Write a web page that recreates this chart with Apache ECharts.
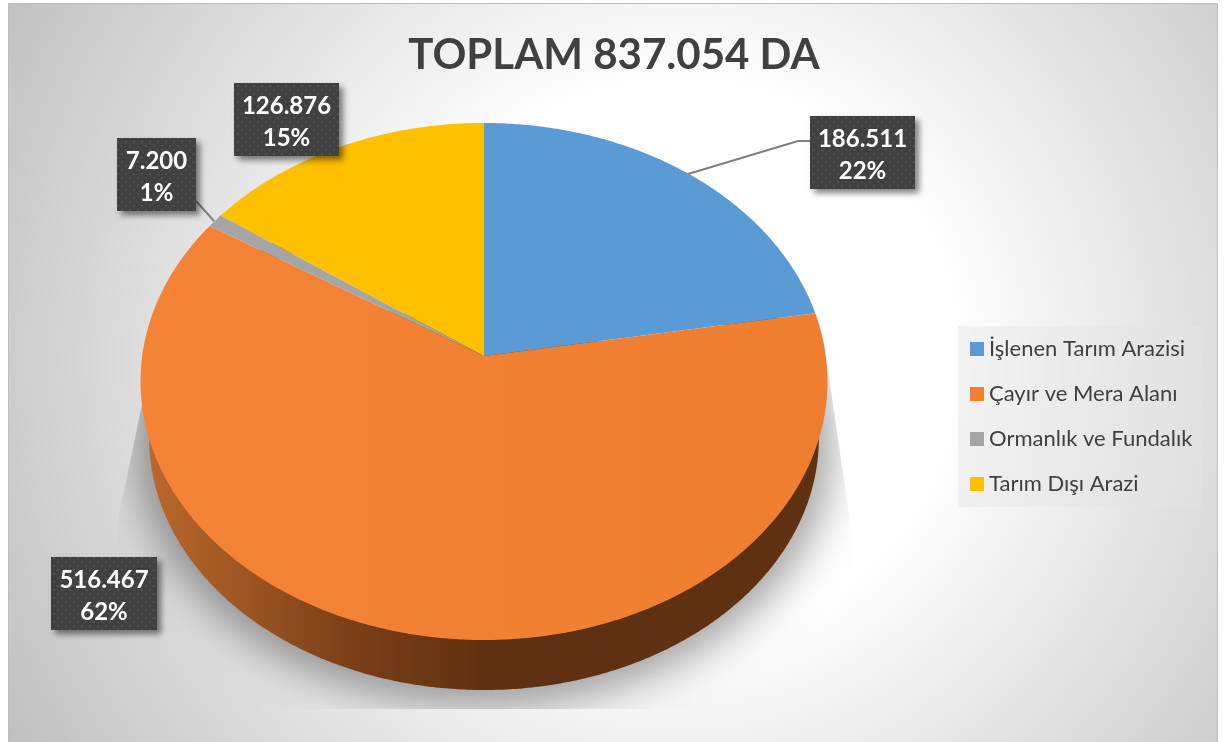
<!DOCTYPE html>
<html>
<head>
<meta charset="utf-8">
<style>
  html, body { margin: 0; padding: 0; background: #fff; }
  #main { width: 1227px; height: 742px; }
</style>
<script src="https://cdn.jsdelivr.net/npm/echarts@6/dist/echarts.min.js"></script>
</head>
<body>
<div id="main"></div>
<script>
const categories = ['İşlenen Tarım Arazisi', 'Çayır ve Mera Alanı', 'Ormanlık ve Fundalık', 'Tarım Dışı Arazi'];
const values = [186511, 516467, 7200, 126876];
const colors = ['#5b9bd5', '#f2802f', '#a5a5a5', '#ffc000'];
const wallColors = ['#2f5a80', '#5f3011', '#555555', '#7a5c00'];
const total = values.reduce((a, b) => a + b, 0);

// perspective tilt of the disc, the centre sits above the middle of the ellipse
const cx = 484, apexY = 356, k = 0.0986, radY = 256, radX = 341.8;
const midY = 381.5, wallScale = 0.975, wallY = 438;

function project(deg) {
  const t = deg * Math.PI / 180, u = Math.sin(t), v = Math.cos(t), d = 1 + k * v;
  return [cx + radX * u / d, apexY - radY * v / d];
}
function projectWall(deg, extra) {
  const p = project(deg), s = wallScale * (extra || 1);
  return [cx + (p[0] - cx) * s, wallY + (p[1] - midY) * s];
}
function arc(from, to, fn) {
  const pts = [];
  const n = Math.max(2, Math.ceil((to - from) / 0.5));
  for (let i = 0; i <= n; i++) pts.push(fn(from + (to - from) * i / n));
  return pts;
}

// label boxes and leader lines
const labelBoxes = [[810, 116, 105, 73], [51, 557, 106, 73], [117, 138, 79, 73], [234, 83, 105, 73]];
const leaders = [[[688, 174], [798, 141], [810, 141]], null, [[196, 201], [214, 221]], null];

const dots = document.createElement('canvas');
dots.width = dots.height = 8;
const dctx = dots.getContext('2d');
dctx.fillStyle = '#404040';
dctx.fillRect(0, 0, 8, 8);
dctx.fillStyle = '#4f4f4f';
dctx.fillRect(1, 1, 2, 2);
dctx.fillRect(5, 5, 2, 2);

const sideFill = {
  type: 'linear', x: 148, y: 0, x2: 490, y2: 0, global: true,
  colorStops: [
    { offset: 0, color: '#ba682c' },
    { offset: 0.6, color: '#7a3f17' },
    { offset: 1, color: '#5f3011' }
  ]
};
const orangeFill = {
  type: 'linear', x: 140, y: 0, x2: 827, y2: 0, global: true,
  colorStops: [{ offset: 0, color: '#f58335' }, { offset: 1, color: '#f07e30' }]
};

function fmt(v) {
  return String(v).replace(/\B(?=(\d{3})+$)/g, '.');
}

function sliceSeries(name, i) {
  const before = values.slice(0, i).reduce((a, b) => a + b, 0);
  return {
    type: 'custom',
    name: name,
    coordinateSystem: 'none',
    z: 3,
    silent: true,
    itemStyle: { color: colors[i] },
    data: [[values[i]]],
    renderItem: function (params, api) {
      const start = before / total * 360;
      const end = start + api.value(0) / total * 360;
      const top = [[cx, apexY]].concat(arc(start, end, project));
      const wall = arc(start, end, projectWall);
      const box = labelBoxes[i];
      const children = [
        { type: 'polygon', z2: 1, shape: { points: wall }, style: { fill: i === 1 ? sideFill : wallColors[i] } },
        { type: 'polygon', z2: 2, shape: { points: top }, style: { fill: i === 1 ? orangeFill : colors[i] } }
      ];
      if (leaders[i]) {
        children.push({ type: 'polyline', z2: 4, shape: { points: leaders[i] }, style: { fill: null, stroke: '#7f7f7f', lineWidth: 2 } });
      }
      children.push({
        type: 'rect', z2: 5,
        shape: { x: box[0], y: box[1], width: box[2], height: box[3] },
        style: { fill: { image: dots, repeat: 'repeat' }, shadowBlur: 6, shadowOffsetX: 4, shadowOffsetY: 4, shadowColor: 'rgba(0,0,0,0.5)' }
      });
      children.push({
        type: 'text', z2: 6,
        style: {
          x: box[0] + box[2] / 2, y: box[1] + box[3] / 2 + 3,
          text: fmt(api.value(0)) + '\n' + Math.round(api.value(0) / total * 100) + '%',
          fill: '#fff', align: 'center', verticalAlign: 'middle',
          font: 'bold 24px Lato', lineHeight: 32
        }
      });
      return { type: 'group', children: children };
    }
  };
}

const chart = echarts.init(document.getElementById('main'), null, { renderer: 'canvas' });
chart.setOption({
  animation: false,
  title: {
    text: 'TOPLAM 837.054 DA',
    left: 614, top: 34, textAlign: 'center', padding: 0,
    textStyle: { color: '#404040', fontFamily: 'Lato', fontWeight: 'bold', fontSize: 42 }
  },
  legend: {
    data: categories,
    orient: 'vertical',
    left: 958, top: 326,
    padding: [11, 10, 11, 12],
    backgroundColor: 'rgba(228,228,228,0.45)',
    icon: 'rect',
    itemWidth: 14, itemHeight: 14, itemGap: 21,
    selectedMode: false,
    textStyle: { color: '#404040', fontFamily: 'Lato', fontSize: 22, lineHeight: 24 }
  },
  graphic: [{
    type: 'rect', z: -10, silent: true,
    shape: { x: 8.5, y: 3.5, width: 1209, height: 740 },
    style: {
      stroke: '#bdbdbd', lineWidth: 1,
      fill: {
        type: 'radial', x: 680, y: 360, r: 780, global: true,
        colorStops: [
          { offset: 0, color: '#ffffff' },
          { offset: 0.35, color: '#ffffff' },
          { offset: 1, color: '#bfbfbf' }
        ]
      }
    }
  }],
  series: [{
    // soft shadow under the disc, cut off by the wedge outline
    type: 'custom',
    name: 'gölge',
    coordinateSystem: 'none',
    z: 1,
    silent: true,
    data: [[total]],
    renderItem: function () {
      const far = 3000;
      const pts = arc(0, 360, function (d) {
        const p = projectWall(d, 1.04);
        return [p[0] - far, p[1] + 6];
      });
      return {
        type: 'polygon',
        shape: { points: pts },
        style: { fill: '#000', shadowBlur: 40, shadowOffsetX: far, shadowColor: 'rgba(0,0,0,0.36)' },
        clipPath: {
          type: 'polygon',
          shape: { points: [[146, 385], [118, 520], [118, 709], [852, 709], [852, 535], [828, 370]] }
        }
      };
    }
  }].concat(categories.map(sliceSeries))
});
</script>
</body>
</html>
